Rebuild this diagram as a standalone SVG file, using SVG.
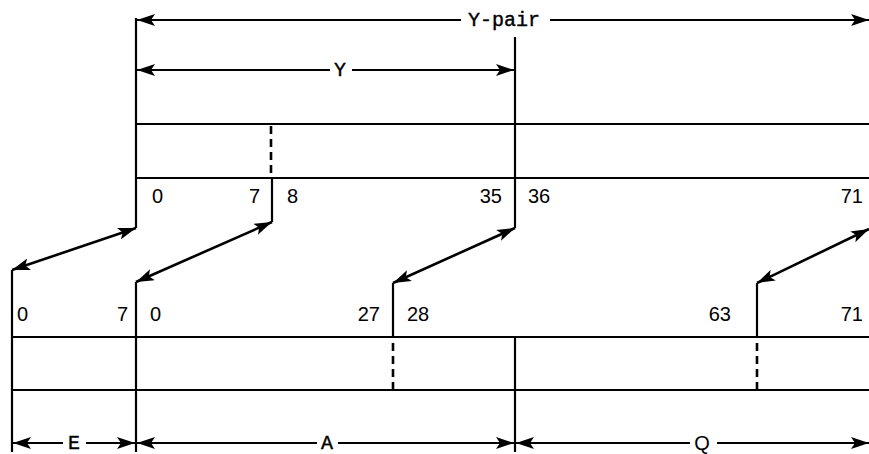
<svg xmlns="http://www.w3.org/2000/svg" width="869" height="454" viewBox="0 0 869 454">
<style>
.ln{stroke:#000;stroke-width:2.2;fill:none}
.dash{stroke:#000;stroke-width:2.6;fill:none;stroke-dasharray:8 5}
.ar{stroke:#000;stroke-width:2.2;fill:none;marker-end:url(#ah)}
.dar{stroke:#000;stroke-width:2.6;fill:none;marker-start:url(#ah)}
.darE{marker-end:url(#ah)}
.num{font-family:"Liberation Sans",Arial,sans-serif;font-size:20px;fill:#000}
.tw{font-family:"Liberation Mono","Courier New",monospace;font-size:20px;fill:#000;stroke:#000;stroke-width:0.4}
.sn{font-family:"Liberation Sans",Arial,sans-serif;font-size:20px;fill:#000}
</style>
<defs>
<marker id="ah" markerUnits="userSpaceOnUse" markerWidth="20" markerHeight="12" refX="18" refY="6" orient="auto-start-reverse">
<path d="M0,0 L18,6 L0,12 L4,6 z" fill="#000"/>
</marker>
</defs>
<rect width="869" height="454" fill="#fff"/>

<g id="top-record">
<line class="ln" x1="136" y1="124" x2="869" y2="124"/>
<line class="ln" x1="136" y1="178" x2="869" y2="178"/>
<line class="ln" x1="136" y1="18" x2="136" y2="228"/>
<line class="dash" x1="271" y1="126" x2="271" y2="178"/>
<line class="ln" x1="272" y1="178" x2="272" y2="222"/>
<line class="ln" x1="515" y1="37" x2="515" y2="228"/>
<text class="num" x="152" y="203">0</text>
<text class="num" x="260" y="203" text-anchor="end">7</text>
<text class="num" x="287" y="203">8</text>
<text class="num" x="502" y="203" text-anchor="end">35</text>
<text class="num" x="528" y="203">36</text>
<text class="num" x="863" y="203" text-anchor="end">71</text>
</g>

<g id="bottom-record">
<line class="ln" x1="12" y1="337" x2="869" y2="337"/>
<line class="ln" x1="12" y1="390" x2="869" y2="390"/>
<line class="ln" x1="12" y1="270" x2="12" y2="452"/>
<line class="ln" x1="136" y1="282" x2="136" y2="452"/>
<line class="ln" x1="393" y1="283" x2="393" y2="337"/>
<line class="dash" x1="393" y1="343" x2="393" y2="390"/>
<line class="ln" x1="515" y1="337" x2="515" y2="452"/>
<line class="ln" x1="757" y1="283" x2="757" y2="337"/>
<line class="dash" x1="757" y1="343" x2="757" y2="390"/>
<text class="num" x="17" y="321">0</text>
<text class="num" x="128" y="321" text-anchor="end">7</text>
<text class="num" x="150" y="321">0</text>
<text class="num" x="380" y="321" text-anchor="end">27</text>
<text class="num" x="407" y="321">28</text>
<text class="num" x="731" y="321" text-anchor="end">63</text>
<text class="num" x="863" y="321" text-anchor="end">71</text>
</g>

<g id="connectors">
<line class="dar darE" x1="136" y1="228" x2="12" y2="270"/>
<line class="dar darE" x1="272" y1="222" x2="136" y2="282"/>
<line class="dar darE" x1="515" y1="228" x2="393" y2="283"/>
<line class="dar darE" x1="869" y1="229" x2="757" y2="283"/>
</g>

<g id="dimensions">
<line class="ar" x1="461" y1="20" x2="137" y2="20"/>
<line class="ar" x1="550" y1="20" x2="869" y2="20"/>
<text class="tw" x="504" y="26" text-anchor="middle">Y-pair</text>
<line class="ar" x1="330" y1="70" x2="137" y2="70"/>
<line class="ar" x1="352" y1="70" x2="514" y2="70"/>
<text class="tw" x="340" y="76" text-anchor="middle">Y</text>
<line class="ar" x1="63" y1="443" x2="13" y2="443"/>
<line class="ar" x1="86" y1="443" x2="135" y2="443"/>
<text class="tw" x="74" y="449" text-anchor="middle">E</text>
<line class="ar" x1="317" y1="443" x2="137" y2="443"/>
<line class="ar" x1="338" y1="443" x2="514" y2="443"/>
<text class="tw" x="327" y="449" text-anchor="middle">A</text>
<line class="ar" x1="690" y1="443" x2="516" y2="443"/>
<line class="ar" x1="717" y1="443" x2="869" y2="443"/>
<text class="sn" x="702" y="450" text-anchor="middle">Q</text>
</g>
</svg>
